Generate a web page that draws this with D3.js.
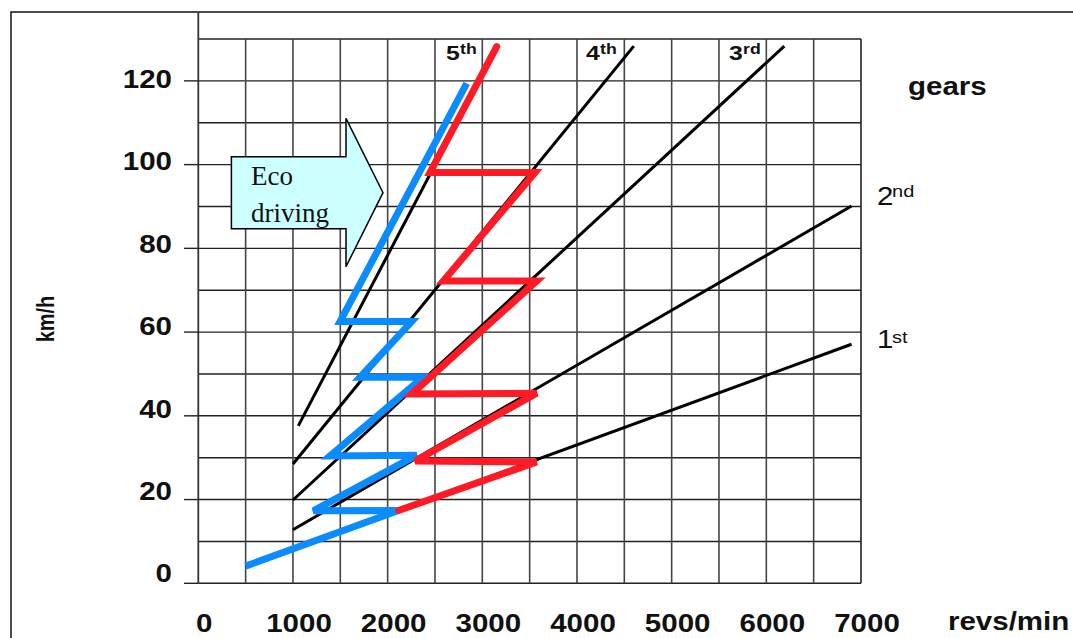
<!DOCTYPE html>
<html><head><meta charset="utf-8">
<script src="https://cdn.jsdelivr.net/npm/d3@7"></script>
<style>body{margin:0;background:#fff} svg{display:block}</style>
</head><body>
<svg id="c" width="1073" height="638"></svg>
<script>
// ---- data ----
const xTicks = [0,1000,2000,3000,4000,5000,6000,7000];
const yTicks = [0,20,40,60,80,100,120];
const gearNames = ["1st","2nd","3rd","4th","5th"];
const gearStartRpm = [500,1000,1000,1000,1056];
const gearStartKmh = [4.1,12.8,19.9,28.5,37.6];
const gearEndRpm = [6900,6900,6190,4600,3150];
const gearEndKmh = [57.1,90.1,128.3,128.3,128];
const ecoRpm = [500,2115,1215,2307,1391,2377,1708,2254,1497,2835];
const ecoKmh = [4.1,17.4,17.3,30.6,30.4,49.3,49.2,62.5,62.5,119.4];
const sportRpm = [2115,3574,2290,3574,2254,3574,2588,3557,2447,3152];
const sportKmh = [17.4,29.0,29.2,45.4,45.2,72.2,72.2,98.1,98.1,128.2];

const svg = d3.select("#c");
const x = d3.scaleLinear().domain([0,7000]).range([198.3,861]);
const y = d3.scaleLinear().domain([0,130]).range([583.3,39]);
// tick labels in the source sit slightly above their grid lines
const yLab = d3.scaleLinear().domain([0,120]).range([573.3,79]);
const SX = 1.18; // horizontal stretch of the source lettering

// outer frame
svg.append("path").attr("d","M11,638 L11,12 L1073,12").attr("fill","none").attr("stroke","#111").attr("stroke-width",1.5);

// grid
const g = svg.append("g");
g.selectAll("line.h").data(d3.range(0,131,10)).join("line")
  .attr("x1",x(0)).attr("x2",x(7000)).attr("y1",d=>y(d)).attr("y2",d=>y(d))
  .attr("stroke","#222").attr("stroke-width",1.4);
g.selectAll("line.v").data(d3.range(500,7001,500)).join("line")
  .attr("x1",d=>x(d)).attr("x2",d=>x(d)).attr("y1",y(0)).attr("y2",y(130))
  .attr("stroke",d=>d===7000?"#222":"#444").attr("stroke-width",1.6);
g.append("line").attr("x1",x(0)).attr("x2",x(0)).attr("y1",12).attr("y2",y(0)).attr("stroke","#333").attr("stroke-width",1.8);
g.selectAll("line.t").data(yTicks).join("line")
  .attr("x1",184).attr("x2",x(0)).attr("y1",d=>y(d)).attr("y2",d=>y(d))
  .attr("stroke","#222").attr("stroke-width",1.4);

function stext(px,py,str,opts){
  const o = Object.assign({size:25,weight:"bold",anchor:"start",family:"'Liberation Sans', Arial, sans-serif"},opts||{});
  const gg = svg.append("g").attr("transform",`translate(${px},${py}) scale(${SX},1)`);
  gg.append("text").attr("x",0).attr("y",0).attr("text-anchor",o.anchor)
    .attr("font-family",o.family).attr("font-size",o.size).attr("font-weight",o.weight)
    .attr("fill","#111").text(str);
  return gg;
}

// tick labels
yTicks.forEach(v=>stext(172, yLab(v)+9, String(v), {anchor:"end"}));
xTicks.forEach(v=>stext(x(v)+6, 632, String(v), {anchor:"middle"}));
stext(948, 630, "revs/min");
stext(908, 95, "gears");
// y axis title rotated
svg.append("g").attr("transform",`translate(54,319) scale(${SX},1) rotate(-90)`)
  .append("text").attr("text-anchor","middle").attr("font-family","'Liberation Sans', Arial, sans-serif")
  .attr("font-size",20).attr("font-weight","bold").attr("fill","#111").text("km/h");

// gear lines
const line = d3.line().x(d=>x(d[0])).y(d=>y(d[1]));
gearNames.forEach((n,i)=>{
  svg.append("path").attr("d",line([[gearStartRpm[i],gearStartKmh[i]],[gearEndRpm[i],gearEndKmh[i]]]))
    .attr("stroke","#000").attr("stroke-width",3).attr("fill","none");
});

// eco (blue) and aggressive (red) shifting paths
const ecoPts = ecoRpm.map((r,i)=>[r,ecoKmh[i]]);
const sportPts = sportRpm.map((r,i)=>[r,sportKmh[i]]);
svg.append("path").attr("d",line(ecoPts)).attr("fill","none").attr("stroke","#0a8cff")
  .attr("stroke-width",7).attr("stroke-linejoin","miter").attr("stroke-miterlimit",3);
svg.append("path").attr("d",line(sportPts)).attr("fill","none").attr("stroke","#ff1a26")
  .attr("stroke-width",7).attr("stroke-linejoin","miter").attr("stroke-miterlimit",3).attr("stroke-linecap","round");

// gear labels
function gearLabel(px,py,main,sup,size,supSize,weight,supDx,supDy){
  stext(px,py,main,{size:size,weight:weight});
  stext(px+supDx,py+supDy,sup,{size:supSize,weight:weight});
}
gearLabel(446,60,"5","th",21,15,"bold",14,-6);
gearLabel(586,60,"4","th",21,15,"bold",14,-6);
gearLabel(729,60,"3","rd",21,15,"bold",14,-6);
gearLabel(877,205,"2","nd",25,17,"normal",15,-8);
gearLabel(877,348,"1","st",25,17,"normal",15,-5);

// Eco driving arrow
const arrow = [[231.4,156.7],[346,156.7],[346,118.3],[383,192.7],[346,266.7],[346,228.7],[231.4,228.7]];
svg.append("polygon").attr("points",arrow.map(p=>p.join(",")).join(" "))
  .attr("fill","#ccffff").attr("stroke","#000").attr("stroke-width",1.5);
svg.append("text").attr("x",251).attr("y",185).attr("font-family","'Liberation Serif','Times New Roman',serif")
  .attr("font-size",27).attr("fill","#111").text("Eco");
svg.append("text").attr("x",251).attr("y",222).attr("font-family","'Liberation Serif','Times New Roman',serif")
  .attr("font-size",27).attr("fill","#111").text("driving");
</script>
</body></html>
